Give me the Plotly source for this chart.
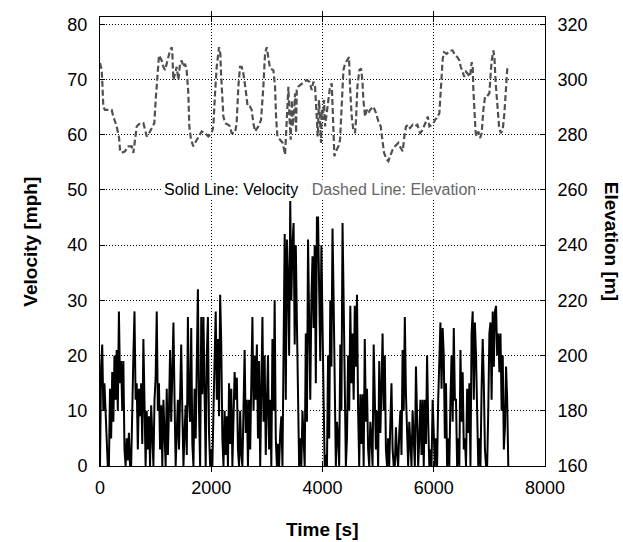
import plotly.graph_objects as go

# ---- data ----
sample_interval_s = 20
velocity_mph = [
    0, 18, 22, 10, 15, 9, 3, 0, 0, 14, 5, 17, 8, 20, 12, 21, 10, 28, 15, 19,
    10, 19, 3, 0, 5, 1, 6, 0, 0, 12, 20, 28, 12, 15, 3, 14, 9, 15, 4, 23,
    8, 0, 10, 3, 9, 0, 11, 5, 0, 12, 16, 28, 10, 15, 3, 11, 0, 12, 4, 0,
    14, 2, 10, 21, 8, 18, 26, 12, 0, 6, 12, 3, 14, 22, 10, 0, 6, 11, 2, 27,
    12, 8, 25, 4, 0, 14, 5, 20, 32, 10, 0, 27, 13, 27, 8, 0, 20, 27, 6, 0,
    3, 0, 10, 19, 28, 12, 23, 9, 31, 22, 5, 0, 10, 2, 9, 0, 15, 4, 14, 0,
    8, 17, 12, 16, 3, 0, 10, 2, 0, 14, 21, 6, 12, 0, 12, 3, 18, 27, 10, 20,
    12, 22, 5, 19, 0, 16, 27, 8, 20, 2, 14, 20, 3, 12, 0, 23, 10, 30, 5, 0,
    4, 0, 6, 9, 0, 30, 42, 12, 41, 34, 20, 48, 30, 40, 44, 22, 40, 26, 8, 0,
    5, 0, 10, 3, 0, 24, 8, 41, 27, 12, 30, 38, 25, 40, 15, 45, 45, 30, 19, 40,
    20, 12, 0, 2, 0, 20, 5, 30, 18, 43, 30, 15, 0, 8, 5, 0, 22, 10, 44, 30,
    15, 0, 5, 20, 10, 29, 15, 24, 12, 29, 18, 31, 10, 0, 13, 4, 13, 0, 23, 8,
    14, 3, 0, 8, 5, 0, 22, 12, 3, 10, 0, 19, 6, 14, 24, 10, 20, 3, 0, 5,
    0, 8, 15, 3, 0, 0, 7, 2, 0, 6, 10, 2, 21, 10, 27, 13, 4, 0, 8, 2,
    0, 10, 3, 0, 18, 6, 0, 5, 12, 2, 12, 0, 12, 4, 20, 8, 0, 3, 0, 12,
    3, 0, 5, 0, 12, 20, 26, 14, 25, 20, 5, 15, 0, 5, 0, 12, 20, 8, 25, 12,
    12, 0, 5, 0, 21, 8, 17, 3, 5, 0, 14, 6, 15, 0, 24, 28, 12, 26, 20, 10,
    0, 5, 0, 14, 23, 15, 3, 0, 0, 10, 24, 26, 12, 28, 18, 28, 29, 20, 24, 17,
    24, 10, 20, 3, 7, 18, 12, 0,
]
velocity_time_s = [i * sample_interval_s for i in range(len(velocity_mph))]

elev_time_s = [
    0, 30, 42, 60, 90, 150, 210, 240, 300, 342, 360, 390, 450, 510, 570, 600, 630, 660, 720, 780,
    810, 840, 870, 930, 977, 1001, 1037, 1061, 1109, 1139, 1169, 1199, 1229, 1259, 1289, 1301, 1319, 1349, 1379, 1409,
    1439, 1469, 1499, 1528, 1558, 1588, 1606, 1636, 1678, 1708, 1768, 1828, 1888, 1948, 2008, 2038, 2068, 2098, 2140, 2164,
    2176, 2200, 2218, 2248, 2308, 2337, 2367, 2427, 2457, 2487, 2517, 2547, 2577, 2619, 2655, 2697, 2727, 2757, 2787, 2847,
    2895, 2937, 2967, 2997, 3027, 3057, 3117, 3147, 3165, 3189, 3237, 3285, 3327, 3345, 3369, 3387, 3405, 3429, 3447, 3465,
    3489, 3507, 3525, 3537, 3566, 3596, 3656, 3716, 3764, 3806, 3836, 3866, 3896, 3914, 3938, 3956, 3974, 3986, 4004, 4028,
    4046, 4076, 4106, 4136, 4166, 4184, 4196, 4214, 4256, 4286, 4316, 4346, 4376, 4405, 4447, 4477, 4495, 4525, 4555, 4585,
    4603, 4627, 4663, 4693, 4717, 4735, 4765, 4795, 4825, 4855, 4915, 4963, 5005, 5047, 5083, 5107, 5155, 5185, 5215, 5262,
    5304, 5364, 5406, 5442, 5472, 5502, 5544, 5574, 5622, 5664, 5706, 5754, 5784, 5826, 5862, 5892, 5922, 5964, 5994, 6024,
    6054, 6101, 6125, 6143, 6161, 6185, 6233, 6293, 6341, 6383, 6425, 6461, 6485, 6521, 6545, 6580, 6622, 6652, 6682, 6700,
    6712, 6730, 6754, 6772, 6802, 6832, 6862, 6892, 6922, 6952, 7000, 7024, 7042, 7072, 7090, 7114, 7144, 7174, 7204, 7240,
    7270, 7300, 7324, 7342,
]
elev_m = [
    306, 303.5, 298.6, 290, 289, 289, 289, 286.6, 283, 279, 274.6, 273.4, 274, 275.8, 275.8, 273.4, 279.4, 283, 284.2, 284.2,
    281.8, 279.4, 280, 282.4, 284.2, 292.6, 304.6, 308.8, 306.9, 304.6, 303.4, 305.7, 307.5, 310.5, 311.7, 309.3, 299.8, 302.2, 304.6, 299.8,
    305.7, 306.9, 304.6, 305.7, 303.4, 295, 283, 278.2, 275.8, 277, 279.4, 281.2, 280.6, 279.4, 280.6, 283, 295, 304.6, 311.7, 309.3,
    302.2, 292.6, 286.6, 284.2, 283.6, 283, 280.6, 280.6, 284.2, 297.4, 304.6, 304.6, 302.2, 296.2, 290.2, 290.2, 289, 284.2, 281.2, 283,
    285.4, 297.4, 309.3, 311.7, 306.9, 304, 303.4, 297.4, 286.6, 279.4, 278.2, 277, 272.8, 280.6, 292.6, 297.4, 286.6, 278.2, 292.6, 283,
    289, 295, 280.6, 296.2, 297.4, 298, 298.8, 299.8, 299.2, 296.2, 299.2, 297.4, 286.6, 279.4, 292.6, 283, 277, 289, 285.4, 292.6,
    283, 287.8, 292.6, 297.4, 298.6, 289, 277, 272.2, 274.6, 275.8, 278.2, 292.6, 303.4, 305.7, 306.9, 308.1, 297.4, 286.6, 281.8, 280.6,
    285.4, 297.4, 303.4, 304, 299.8, 292.6, 286.6, 289, 287.8, 289, 290.2, 287.8, 284.8, 283, 277, 273.4, 271, 270.4, 272.2, 274.6,
    275.8, 277, 275.2, 274, 279.4, 283, 283.6, 282.4, 283.6, 283, 283.6, 280.6, 281.2, 283, 284.8, 286.6, 283, 283.6, 284.2, 285.4,
    286, 287.8, 295, 302.2, 307.5, 309.9, 309.3, 310.5, 310.5, 308.7, 308.1, 306.9, 304.6, 302.8, 301, 302.8, 301.6, 301, 306.3, 304.6,
    296.2, 289, 280.6, 279.4, 281.2, 278.8, 280.6, 289, 293.8, 293.8, 295, 302.2, 306.9, 310.5, 308.1, 298.6, 290.2, 283, 280.6, 281.8,
    287.8, 297.4, 304.6, 305.1,
]

x_ticks = [0, 2000, 4000, 6000, 8000]
vel_ticks = [0, 10, 20, 30, 40, 50, 60, 70, 80]
elev_ticks = [160, 180, 200, 220, 240, 260, 280, 300, 320]

FONT = "Liberation Sans, Arial, Helvetica, sans-serif"

fig = go.Figure()
fig.add_trace(go.Scatter(
    x=velocity_time_s, y=velocity_mph, mode="lines",
    line=dict(color="black", width=2), yaxis="y", showlegend=False,
))
fig.add_trace(go.Scatter(
    x=elev_time_s, y=elev_m, mode="lines",
    line=dict(color="#505050", width=2.2, dash="6px,3px"), yaxis="y2", showlegend=False,
))

axis_common = dict(
    showline=True, linecolor="black", linewidth=1,
    ticks="inside", ticklen=5, tickcolor="black",
    tickfont=dict(family=FONT, size=18, color="black"),
    zeroline=False,
)

fig.update_layout(
    width=623, height=542,
    margin=dict(l=100, r=78, t=17, b=76),
    paper_bgcolor="white", plot_bgcolor="white",
    font=dict(family=FONT, color="black"),
    xaxis=dict(
        range=[0, 8000], tickvals=x_ticks, mirror="allticks",
        showgrid=True, gridcolor="black", griddash="1px,2px", gridwidth=1,
        ticklabelstandoff=5,
        **axis_common,
    ),
    yaxis=dict(
        range=[0, 81.32], tickvals=vel_ticks, mirror=True,
        showgrid=True, gridcolor="black", griddash="1px,2px", gridwidth=1,
        ticklabelstandoff=8,
        **axis_common,
    ),
    yaxis2=dict(
        range=[160, 322.64], tickvals=elev_ticks, overlaying="y", side="right",
        showgrid=False, ticklabelstandoff=8,
        **axis_common,
    ),
    annotations=[
        dict(text="Solid Line: Velocity&nbsp;&nbsp;&nbsp;<span style='color:#666666'>Dashed Line: Elevation</span>",
             x=3956, y=50, xref="x", yref="y", xanchor="center", yanchor="middle", showarrow=False,
             font=dict(family=FONT, size=16, color="black"), bgcolor="white", borderpad=1),
        dict(text="<b>Velocity [mph]</b>", x=-0.157, y=0.5, xref="paper", yref="paper",
             xanchor="center", yanchor="middle",
             textangle=-90, showarrow=False, font=dict(family=FONT, size=19, color="black")),
        dict(text="<b>Elevation [m]</b>", x=1.15, y=0.5, xref="paper", yref="paper",
             xanchor="center", yanchor="middle",
             textangle=90, showarrow=False, font=dict(family=FONT, size=19, color="black")),
        dict(text="<b>Time [s]</b>", x=0.5, y=-0.142, xref="paper", yref="paper",
             xanchor="center", yanchor="middle",
             showarrow=False, font=dict(family=FONT, size=19, color="black")),
    ],
)

fig.write_html("out.html")
